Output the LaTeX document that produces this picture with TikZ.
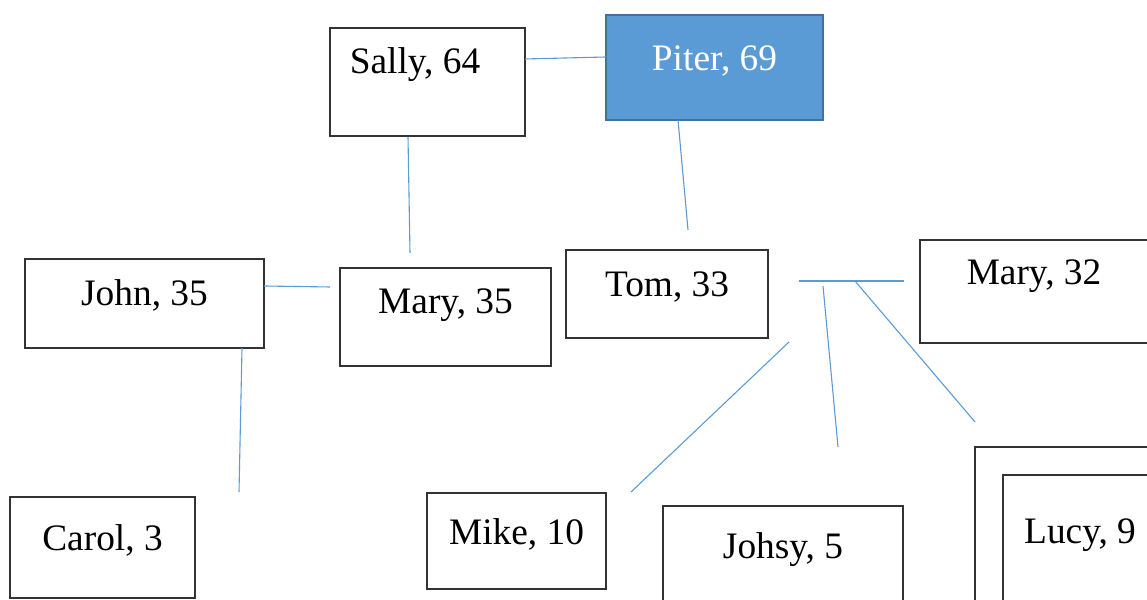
\documentclass[tikz,border=0pt]{standalone}
\usepackage{fontspec}
\setmainfont{Liberation Serif}
\usepackage{tikz}
\definecolor{linkblue}{RGB}{91,155,213}
\definecolor{rootedge}{RGB}{65,113,156}
\tikzset{
  person/.style={draw=black!80,line width=1.3bp,rectangle,inner sep=0pt},
  root/.style={person,draw=rootedge,fill=linkblue,line width=2bp},
  link/.style={draw=linkblue,line width=1.1bp},
}

\begin{document}
\begin{tikzpicture}[x=1bp,y=1bp,font=\fontsize{37.5}{45}\selectfont]
\useasboundingbox (0,0) rectangle (1147,600);
%% boxes
  \node (Sally) at (427.5bp,518.0bp) [person,minimum width=195bp,minimum height=108bp,
    label={[xshift=-12.5bp,yshift=17bp]center:{Sally, 64}}] {};
  \node (Piter) at (714.5bp,532.5bp) [root,minimum width=217bp,minimum height=105bp,
    label={[yshift=6.5bp,text=white]center:{Piter, 69}}] {};
  \node (John) at (144.5bp,296.5bp) [person,minimum width=239bp,minimum height=89bp,
    label={[yshift=8.5bp]center:{John, 35}}] {};
  \node (Mary35) at (445.5bp,283.0bp) [person,minimum width=211bp,minimum height=98bp,
    label={[yshift=12bp]center:{Mary, 35}}] {};
  \node (Tom) at (667.0bp,306.0bp) [person,minimum width=202bp,minimum height=88bp,
    label={[yshift=7bp]center:{Tom, 33}}] {};
  \node (Mary32) at (1035.0bp,308.5bp) [person,minimum width=230bp,minimum height=103bp,
    label={[xshift=-1bp,yshift=15.5bp]center:{Mary, 32}}] {};
  \node (Carol) at (102.5bp,52.5bp) [person,minimum width=185bp,minimum height=101bp,
    label={[yshift=7.5bp]center:{Carol, 3}}] {};
  \node (Mike) at (516.5bp,59.0bp) [person,minimum width=179bp,minimum height=96bp,
    label={[yshift=7bp]center:{Mike, 10}}] {};
  \node (Johsy) at (783.0bp,42.0bp) [person,minimum width=240bp,minimum height=104bp,
    label={[yshift=8bp]center:{Johsy, 5}}] {};
  \node (LucyFrame) at (1090.0bp,68.0bp) [person,minimum width=230bp,minimum height=170bp] {};
  \node (Lucy) at (1093.0bp,60.0bp) [person,minimum width=180bp,minimum height=130bp,
    label={[xshift=-13bp,yshift=5bp]center:{Lucy, 9}}] {};
%% line ends
  \coordinate (sp1) at (525bp,541bp);   \coordinate (sp2) at (606bp,543bp);
  \coordinate (sm1) at (408bp,463bp);   \coordinate (sm2) at (410bp,347bp);
  \coordinate (pt1) at (678bp,480bp);   \coordinate (pt2) at (688bp,370bp);
  \coordinate (jm1) at (264bp,314bp);   \coordinate (jm2) at (330bp,313bp);
  \coordinate (jc1) at (242bp,252bp);   \coordinate (jc2) at (239bp,108bp);
  \coordinate (tm1) at (799bp,319bp);   \coordinate (tm2) at (904bp,319bp);
  \coordinate (kj1) at (823bp,314bp);   \coordinate (kj2) at (838bp,153bp);
  \coordinate (kl1) at (855bp,319bp);   \coordinate (kl2) at (975bp,178bp);
  \coordinate (km1) at (789bp,258bp);   \coordinate (km2) at (631bp,108bp);
%% connectors
  \draw [link] (sp1) -- (sp2);
  \draw [link] (sm1) -- (sm2);
  \draw [link] (pt1) -- (pt2);
  \draw [link] (jm1) -- (jm2);
  \draw [link] (jc1) -- (jc2);
  \draw [link] (tm1) -- (tm2);
  \draw [link] (kj1) -- (kj2);
  \draw [link] (kl1) -- (kl2);
  \draw [link] (km1) -- (km2);
%
\end{tikzpicture}
\end{document}
